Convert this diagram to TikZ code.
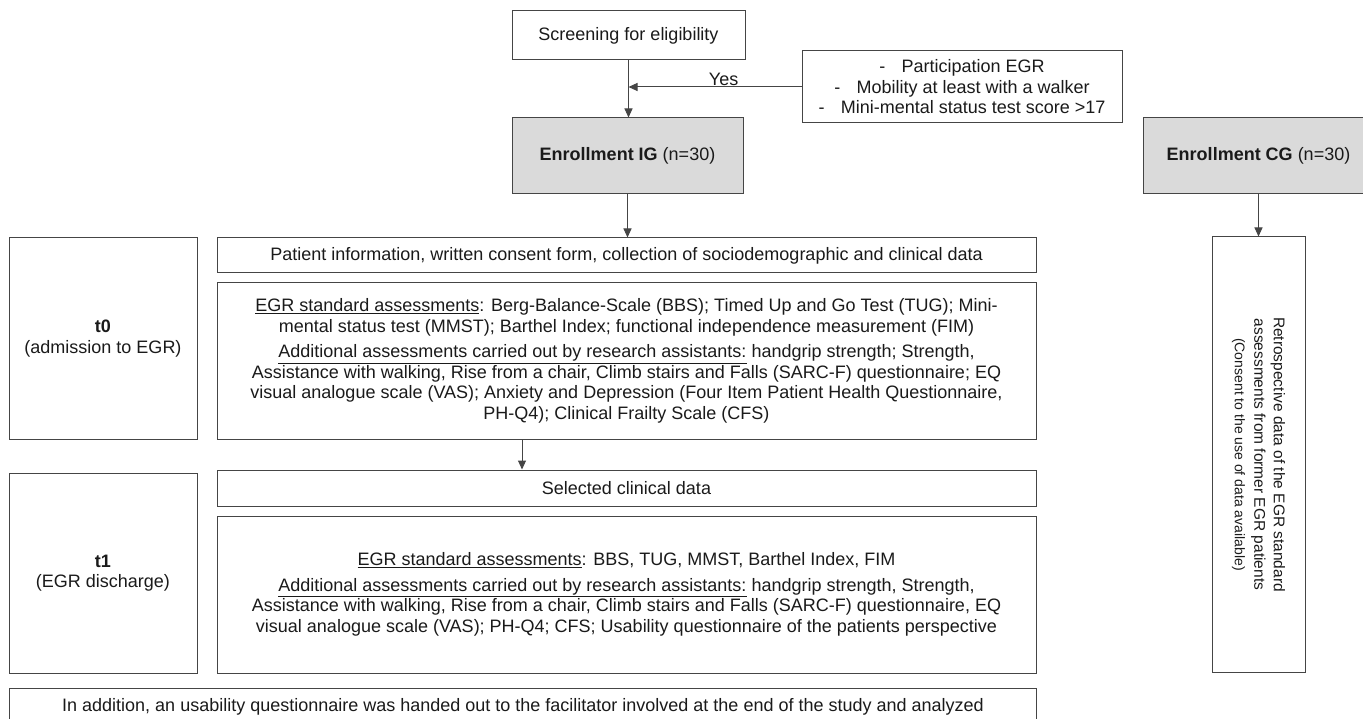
\documentclass[tikz,border=0pt]{standalone}
\usepackage{fontspec}
\setmainfont{Liberation Sans}
\usetikzlibrary{arrows.meta}
\definecolor{ln}{HTML}{454545}
\definecolor{tx}{HTML}{1A1A1A}
\definecolor{gf}{HTML}{DADADA}
\begin{document}
\begin{tikzpicture}[x=1pt,y=-1pt,
  box/.style={draw=ln, line width=1pt, inner sep=2pt, text=tx, align=center,
    font=\fontsize{18}{20.5}\selectfont},
  gbox/.style={box, fill=gf},
  arr/.style={draw=ln, line width=1pt, -{Triangle[length=9pt,width=8pt]}},
  lbl/.style={text=tx, inner sep=1pt, font=\fontsize{18}{20}\selectfont}]
\useasboundingbox (0,0) rectangle (1363,719);
\clip (0,0) rectangle (1363,719);
% top
\node[box, minimum width=233, minimum height=49] (scr) at (628.5,35.5) {Screening for eligibility};
\node[box, minimum width=320, minimum height=72] (crit) at (962,87)
  {-\hspace{0.9em}Participation EGR\\ -\hspace{0.9em}Mobility at least with a walker\\ -\hspace{0.9em}Mini-mental status test score >17};
\node[gbox, minimum width=231, minimum height=76] (ig) at (627.5,156) {\textbf{Enrollment IG}\ (n=30)};
\node[gbox, minimum width=231, minimum height=76] (cg) at (1258.5,156) {\textbf{Enrollment CG}\ (n=30)};
% left
\node[box, minimum width=188, minimum height=201] (t0) at (103,338.5) {\textbf{t0}\\(admission to EGR)};
\node[box, minimum width=188, minimum height=200] (t1) at (103,573) {\textbf{t1}\\(EGR discharge)};
% main column
\node[box, minimum width=819, minimum height=35] (pat) at (626.5,255.5)
  {Patient information, written consent form, collection of sociodemographic and clinical data};
\node[box, minimum width=819, minimum height=156] (c0) at (626.5,361)
  {\underline{EGR standard assessments}: Berg-Balance-Scale (BBS); Timed Up and Go Test (TUG); Mini-\\
   mental status test (MMST); Barthel Index; functional independence measurement (FIM)\\[5pt]
   \underline{Additional assessments carried out by research assistants:} handgrip strength; Strength,\\
   Assistance with walking, Rise from a chair, Climb stairs and Falls (SARC-F) questionnaire; EQ\\
   visual analogue scale (VAS); Anxiety and Depression (Four Item Patient Health Questionnaire,\\
   PH-Q4); Clinical Frailty Scale (CFS)};
\node[box, minimum width=819, minimum height=36] (sel) at (626.5,488) {Selected clinical data};
\node[box, minimum width=819, minimum height=157] (c1) at (626.5,594.5)
  {\underline{EGR standard assessments}: BBS, TUG, MMST, Barthel Index, FIM\\[5pt]
   \underline{Additional assessments carried out by research assistants:} handgrip strength, Strength,\\
   Assistance with walking, Rise from a chair, Climb stairs and Falls (SARC-F) questionnaire, EQ\\
   visual analogue scale (VAS); PH-Q4; CFS; Usability questionnaire of the patients perspective};
\node[box, minimum width=1027, minimum height=40, anchor=north west, text depth=0pt] (bot) at (9,688)
  {\raisebox{7pt}{In addition, an usability questionnaire was handed out to the facilitator involved at the end of the study and analyzed}};
% right column
\node[box, rotate=-90, minimum width=435, minimum height=93, font=\fontsize{15.5}{19.5}\selectfont] (retro) at (1258.5,454.5)
  {Retrospective data of the EGR standard\\ assessments from former EGR patients\\
   {\fontsize{14}{15}\selectfont (Consent to the use of data available)}};
% connectors
\draw[arr] (scr.south) -- (scr.south |- ig.north);
\draw[arr] (crit.west) -- (crit.west -| scr.south) node[lbl, pos=0.45, above] (yes) {Yes};
\draw[arr] (ig.south) -- (ig.south |- pat.north);
\draw[arr] ([xshift=-104.5pt]c0.south) -- ([xshift=-104.5pt]sel.north);
\draw[arr] (cg.south) -- (cg.south |- retro.west);
\end{tikzpicture}
\end{document}
